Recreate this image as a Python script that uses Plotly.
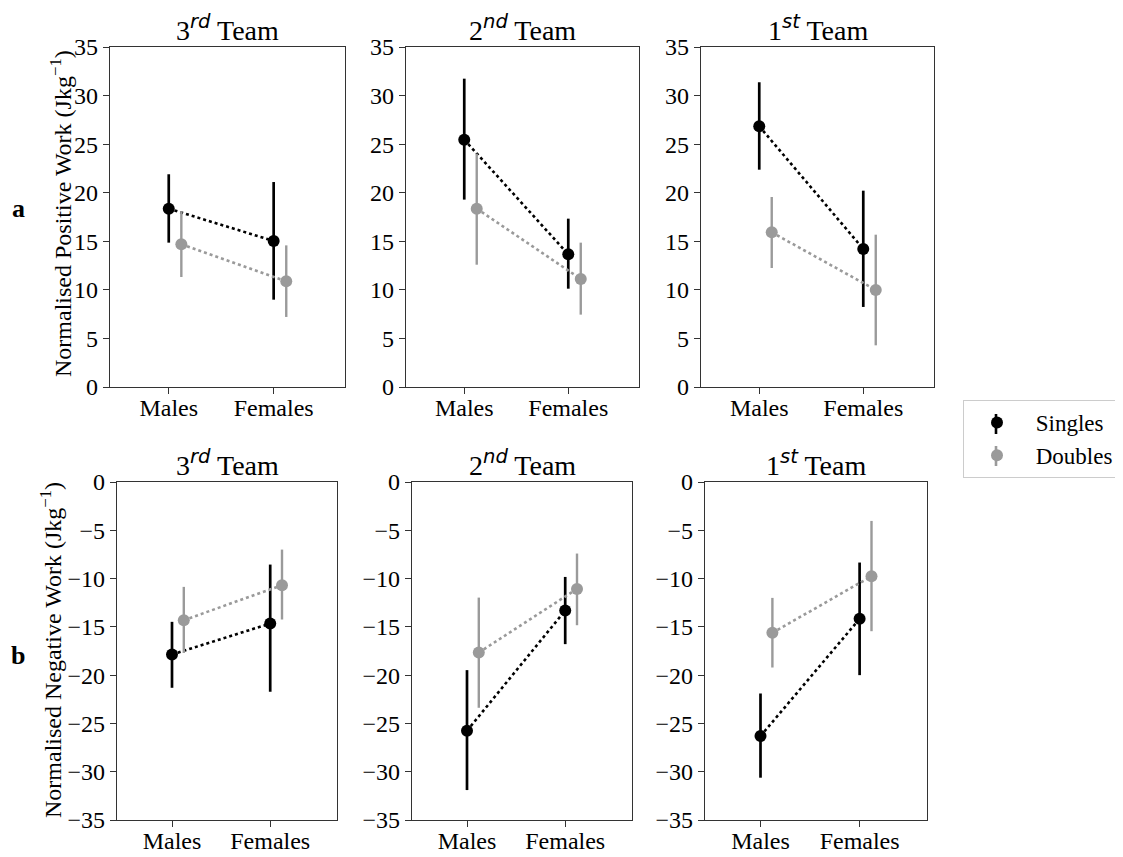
import plotly.graph_objects as go

# window is 1123x857; the page body has an 8px margin
WIN_W, WIN_H = 1123, 857
OFF = 8
W, H = WIN_W - OFF, WIN_H

categories = ["Males", "Females"]
teams = ["3<sup><span style='font-family:DejaVu Sans'><i>rd</i></span></sup> Team",
         "2<sup><span style='font-family:DejaVu Sans'><i>nd</i></span></sup> Team",
         "1<sup><span style='font-family:DejaVu Sans'><i>st</i></span></sup> Team"]
series_names = ["Singles", "Doubles"]

# Positive work (row a): per team [Males, Females]
pos_singles = [[18.36, 15.03], [25.46, 13.66], [26.84, 14.21]]
pos_singles_hi = [[21.9, 21.1], [31.74, 17.33], [31.37, 20.21]]
pos_singles_lo = [[14.86, 8.99], [19.29, 10.12], [22.37, 8.24]]
pos_doubles = [[14.69, 10.88], [18.36, 11.12], [15.92, 9.99]]
pos_doubles_hi = [[18.1, 14.58], [24.02, 14.86], [19.56, 15.68]]
pos_doubles_lo = [[11.32, 7.21], [12.59, 7.45], [12.25, 4.29]]

# Negative work (row b)
neg_singles = [[-17.86, -14.66], [-25.76, -13.31], [-26.31, -14.17]]
neg_singles_hi = [[-14.48, -8.55], [-19.48, -9.83], [-21.9, -8.34]]
neg_singles_lo = [[-21.31, -21.72], [-31.9, -16.79], [-30.62, -20.0]]
neg_doubles = [[-14.31, -10.69], [-17.66, -11.07], [-15.62, -9.76]]
neg_doubles_hi = [[-10.86, -7.0], [-11.97, -7.41], [-12.0, -4.03]]
neg_doubles_lo = [[-17.7, -14.24], [-23.38, -14.83], [-19.21, -15.45]]

y_ticks_pos = [0, 5, 10, 15, 20, 25, 30, 35]
y_ticks_neg = [0, -5, -10, -15, -20, -25, -30, -35]

BLACK = "#000000"
GRAY = "#9a9a9a"
DODGE = 0.12
FONT = "Liberation Serif, Times New Roman, serif"

# pixel layout (window coordinates)
top_x = [(110, 345), (406, 639), (701, 934)]
bot_x = [(117, 337), (412, 632), (705, 927)]
top_y = (47, 387)
bot_y = (482, 820)

def fx(px):
    return (px - OFF) / W

def fy(py):
    return 1 - (py - OFF) / H

fig = go.Figure()
layout = {}

def add_panel(idx, xpx, ypx, s, shi, slo, d, dhi, dlo, yr, yt):
    xa = "x" if idx == 1 else f"x{idx}"
    ya = "y" if idx == 1 else f"y{idx}"
    xs = [0, 1]
    xd = [v + DODGE for v in xs]
    for name, xv, yv, hi, lo, col, lw in [
        (series_names[0], xs, s, shi, slo, BLACK, 2.7),
        (series_names[1], xd, d, dhi, dlo, GRAY, 2.4),
    ]:
        fig.add_trace(go.Scatter(
            x=xv, y=yv, mode="lines+markers", name=name,
            xaxis=xa, yaxis=ya,
            line=dict(color=col, width=2.6, dash="dot"),
            marker=dict(color=col, size=12),
            error_y=dict(type="data", symmetric=False,
                         array=[h - v for h, v in zip(hi, yv)],
                         arrayminus=[v - l for v, l in zip(yv, lo)],
                         color=col, thickness=lw, width=0),
            showlegend=False,
        ))
    axis_common = dict(showline=True, linecolor="#333333", linewidth=1.3, mirror=True,
                       ticks="outside", ticklen=6, tickwidth=1.3, tickcolor="#333333",
                       showgrid=False, zeroline=False, automargin=False,
                       tickfont=dict(family=FONT, size=24, color="black"))
    layout["xaxis" if idx == 1 else f"xaxis{idx}"] = dict(
        domain=[fx(xpx[0]), fx(xpx[1])], anchor=ya, range=[-0.56, 1.68],
        tickvals=[0, 1], ticktext=categories, ticklabelstandoff=-7, **axis_common)
    layout["yaxis" if idx == 1 else f"yaxis{idx}"] = dict(
        domain=[fy(ypx[1]), fy(ypx[0])], anchor=xa, range=yr, tickvals=yt, **axis_common)

for i in range(3):
    add_panel(i + 1, top_x[i], top_y,
              pos_singles[i], pos_singles_hi[i], pos_singles_lo[i],
              pos_doubles[i], pos_doubles_hi[i], pos_doubles_lo[i],
              [0, 35], y_ticks_pos)
for i in range(3):
    add_panel(i + 4, bot_x[i], bot_y,
              neg_singles[i], neg_singles_hi[i], neg_singles_lo[i],
              neg_doubles[i], neg_doubles_hi[i], neg_doubles_lo[i],
              [-35, 0], y_ticks_neg)

# legend entries
for name, col in zip(series_names, [BLACK, GRAY]):
    fig.add_trace(go.Scatter(x=[None], y=[None], mode="markers", name="\u00a0" + name,
                             marker=dict(color=col, size=12), showlegend=True))

annotations = []
for i in range(3):
    cx = fx((top_x[i][0] + top_x[i][1]) / 2)
    annotations.append(dict(text=teams[i], x=cx, y=fy(28), xref="paper", yref="paper",
                            showarrow=False, xanchor="center", yanchor="middle",
                            font=dict(family=FONT, size=28, color="black")))
    cx = fx((bot_x[i][0] + bot_x[i][1]) / 2)
    annotations.append(dict(text=teams[i], x=cx, y=fy(463), xref="paper", yref="paper",
                            showarrow=False, xanchor="center", yanchor="middle",
                            font=dict(family=FONT, size=28, color="black")))

annotations.append(dict(text="Normalised Positive Work (Jkg<sup>−1</sup>)", textangle=-90,
                        x=fx(61), y=fy(214), xref="paper", yref="paper", showarrow=False,
                        xanchor="center", yanchor="middle",
                        font=dict(family=FONT, size=24, color="black")))
annotations.append(dict(text="Normalised Negative Work (Jkg<sup>−1</sup>)", textangle=-90,
                        x=fx(51), y=fy(650), xref="paper", yref="paper", showarrow=False,
                        xanchor="center", yanchor="middle",
                        font=dict(family=FONT, size=24, color="black")))
annotations.append(dict(text="<b>a</b>", x=fx(18), y=fy(208), xref="paper", yref="paper",
                        showarrow=False, xanchor="center", yanchor="middle",
                        font=dict(family=FONT, size=26, color="black")))
annotations.append(dict(text="<b>b</b>", x=fx(18), y=fy(655), xref="paper", yref="paper",
                        showarrow=False, xanchor="center", yanchor="middle",
                        font=dict(family=FONT, size=26, color="black")))

# vertical error-bar strokes for the legend keys (drawn beneath the legend markers)
legend_key_x = 996
legend_key_rows = [(424, BLACK), (456, GRAY)]
shapes = []
for yc, col in legend_key_rows:
    shapes.append(dict(type="line", xref="paper", yref="paper",
                       x0=fx(legend_key_x), x1=fx(legend_key_x),
                       y0=fy(yc - 10), y1=fy(yc + 10),
                       line=dict(color=col, width=2.6), layer="above"))

fig.update_layout(
    width=W, height=H,
    margin=dict(l=0, r=0, t=0, b=0, autoexpand=False),
    paper_bgcolor="white", plot_bgcolor="white",
    showlegend=True,
    legend=dict(x=fx(963), y=fy(400), xanchor="left", yanchor="top",
                bordercolor="#cccccc", borderwidth=1, bgcolor="rgba(0,0,0,0)",
                font=dict(family=FONT, size=23, color="black"),
                itemwidth=56, tracegroupgap=0),
    annotations=annotations,
    shapes=shapes,
    **layout,
)

fig.write_html("out.html")
